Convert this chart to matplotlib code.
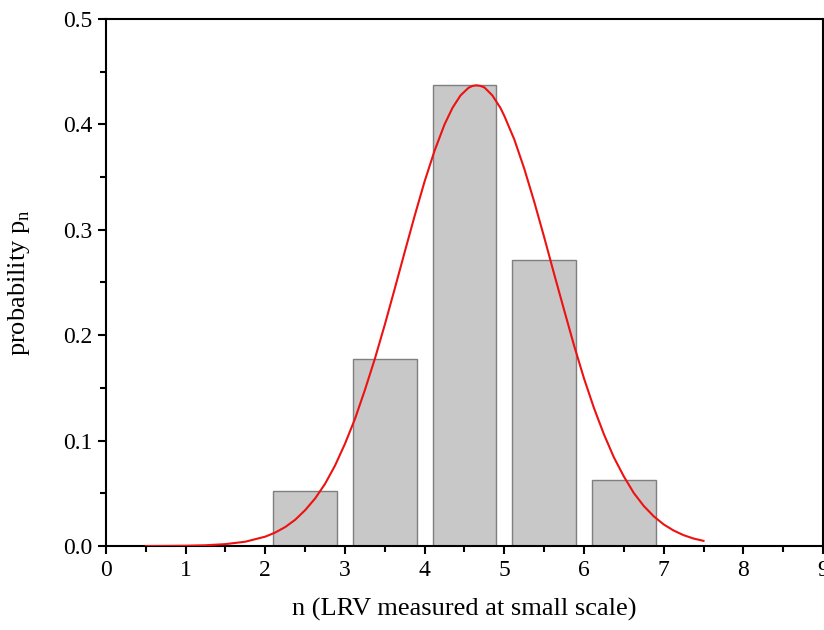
import matplotlib
matplotlib.use('Agg')
import matplotlib.pyplot as plt
from matplotlib.ticker import MultipleLocator, FormatStrFormatter

# histogram of n and the fitted curve
n_values = [2.5, 3.5, 4.5, 5.5, 6.5]
probabilities = [0.052, 0.177, 0.437, 0.271, 0.063]

fit_x = [0.5, 0.75, 1.0, 1.25, 1.5, 1.75, 2.0, 2.125, 2.25, 2.375, 2.5,
         2.625, 2.75, 2.875, 3.0, 3.125, 3.25, 3.375, 3.5, 3.625, 3.75,
         3.875, 4.0, 4.125, 4.25, 4.35, 4.45, 4.55, 4.6, 4.65, 4.7, 4.75,
         4.85, 4.95, 5.0, 5.125, 5.25, 5.375, 5.5, 5.625, 5.75, 5.875,
         6.0, 6.125, 6.25, 6.375, 6.5, 6.625, 6.75, 6.875, 7.0, 7.125,
         7.25, 7.375, 7.5]
fit_y = [0.0000, 0.0001, 0.0003, 0.0007, 0.0018, 0.0041, 0.0089, 0.0128,
         0.018, 0.0249, 0.034, 0.0451, 0.059, 0.0763, 0.097, 0.1205,
         0.148, 0.1776, 0.210, 0.2442, 0.279, 0.3133, 0.346, 0.3751,
         0.400, 0.4157, 0.4274, 0.4346, 0.4364, 0.437, 0.4364, 0.435,
         0.4274, 0.4157, 0.408, 0.3857, 0.358, 0.3266, 0.293, 0.2581,
         0.224, 0.1903, 0.159, 0.1309, 0.106, 0.0841, 0.066, 0.0503,
         0.038, 0.0282, 0.0205, 0.0147, 0.0103, 0.0071, 0.0049]

plt.rcParams['font.family'] = ['Liberation Serif', 'DejaVu Serif']
plt.rcParams['mathtext.fontset'] = 'custom'
plt.rcParams['mathtext.rm'] = 'Liberation Serif'

fig = plt.figure(figsize=(8.24, 6.3), dpi=100)
ax = fig.add_axes([0.1286, 0.1333, 0.8702, 0.8367])

ax.bar(n_values, probabilities, width=0.8, color='#c8c8c8',
       edgecolor='#7f7f7f', linewidth=1.0, zorder=2)
ax.plot(fit_x, fit_y, color='#ee1111', linewidth=1.5,
        solid_joinstyle='round', zorder=3)

ax.set_xlim(0, 9)
ax.set_ylim(0, 0.5)
ax.xaxis.set_major_locator(MultipleLocator(1))
ax.xaxis.set_minor_locator(MultipleLocator(0.5))
ax.yaxis.set_major_locator(MultipleLocator(0.1))
ax.yaxis.set_minor_locator(MultipleLocator(0.05))
ax.yaxis.set_major_formatter(FormatStrFormatter('%.1f'))

ax.tick_params(which='both', direction='out', width=1.5, labelsize=17,
               top=False, right=False)
ax.tick_params(which='major', length=6, pad=4)
ax.tick_params(which='minor', length=4)
for s in ax.spines.values():
    s.set_linewidth(1.5)

ax.set_xlabel('n (LRV measured at small scale)', fontsize=19, labelpad=12)
ax.set_ylabel(r'probability p$_\mathrm{n}$', fontsize=19, labelpad=22)

fig.savefig('out.png', dpi=100)
